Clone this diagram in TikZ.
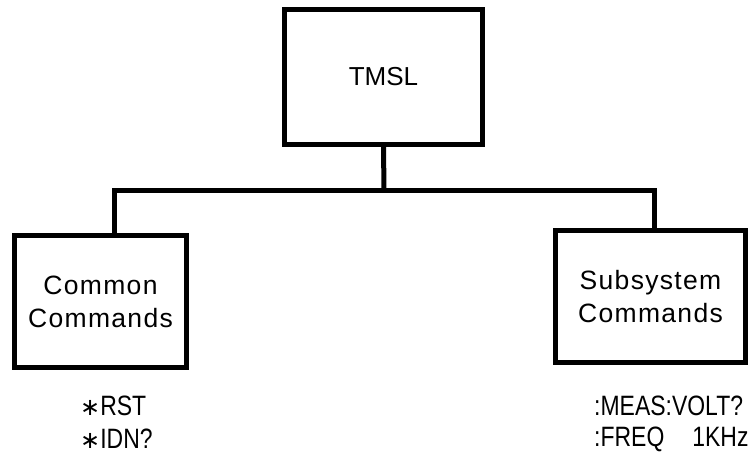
\documentclass[tikz,border=0pt]{standalone}
\usepackage{fontspec}
\setmainfont{Liberation Sans}
\newfontfamily\wideface[LetterSpace=5]{Liberation Sans}
\newfontfamily\cmdface[FakeStretch=0.82]{Liberation Sans}
\newfontfamily\starface{DejaVu Sans}
\newcommand\cmdstar{{\starface\fontsize{24}{24}\selectfont ∗}}
\begin{document}
\begin{tikzpicture}[x=1pt, y=-1pt,
  blockbox/.style={draw, line width=5pt, align=center, inner sep=0pt,
    font=\fontsize{26}{33}\selectfont},
  widebox/.style={blockbox, font=\wideface\fontsize{26.5}{33}\selectfont},
  cmdline/.style={anchor=west, inner sep=0pt, font=\cmdface\fontsize{28}{30}\selectfont},
  wire/.style={line width=5pt}]
\useasboundingbox (0,0) rectangle (752,459);
\node[blockbox, minimum width=198pt, minimum height=135pt] (tmsl) at (383.5,77) {TMSL};
\node[widebox, minimum width=172pt, minimum height=132pt] (common) at (100.5,301.5) {Common\\Commands};
\node[widebox, minimum width=190pt, minimum height=132pt] (subsys) at (650.5,296.5) {Subsystem\\Commands};
\coordinate (bus) at (384,190);
\coordinate (busleft) at (114,190);
\coordinate (busright) at (654,190);
\draw[wire] (tmsl.south) -- (bus);
\draw[wire] (busleft |- common.north) -- (busleft) -- (busright) -- (busright |- subsys.north);
\node[cmdline] (rst) at (80,406) {\cmdstar RST};
\node[cmdline] (idn) at (80,439) {\cmdstar IDN?};
\node[cmdline] (meas) at (594,406) {:MEAS:VOLT?};
\node[cmdline] (freq) at (594,439) {:FREQ\quad1KHz};
\end{tikzpicture}
\end{document}
